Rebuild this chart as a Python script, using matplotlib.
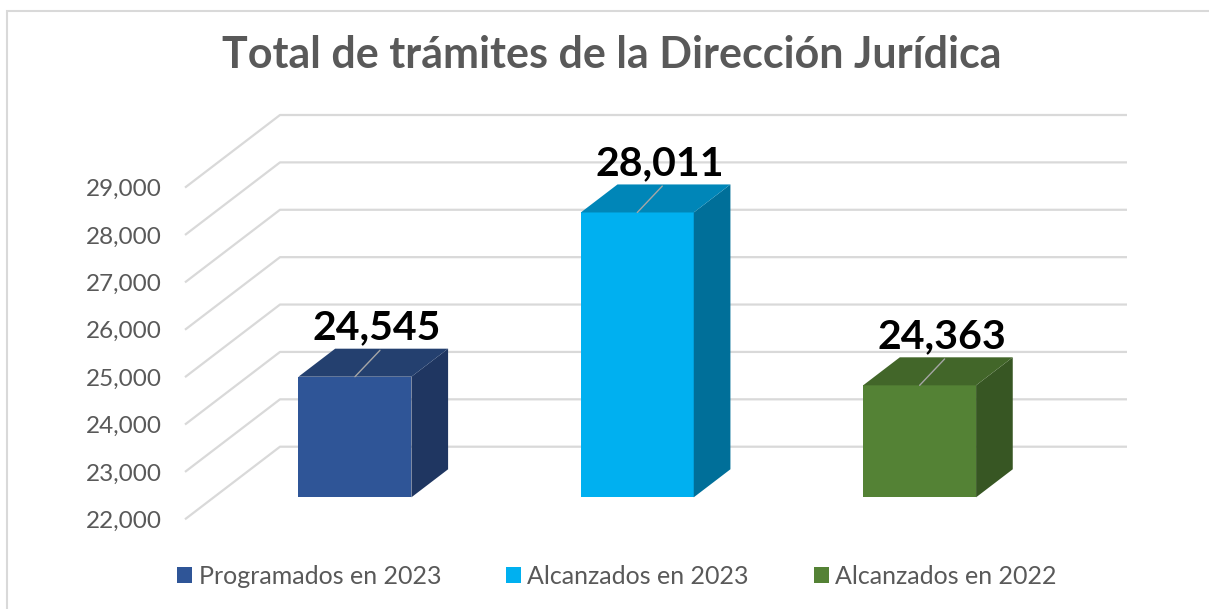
import matplotlib
matplotlib.use("Agg")
import matplotlib.pyplot as plt
from matplotlib.patches import Polygon, Rectangle

# ── Data ──────────────────────────────────────────────────────────────
categories = ["Programados en 2023", "Alcanzados en 2023", "Alcanzados en 2022"]
values = [24545, 28011, 24363]
y_ticks = [22000, 23000, 24000, 25000, 26000, 27000, 28000, 29000]
title = "Total de trámites de la Dirección Jurídica"

front_colors = ["#2F5597", "#00B0F0", "#548235"]
top_colors = ["#24406F", "#0086B8", "#426629"]
side_colors = ["#1F3661", "#006F99", "#375623"]

# ── Fake 3-D projection (oblique) ─────────────────────────────────────
BASE = y_ticks[0]
DX = 0.3365      # x shift (category units) for full depth
DY = 1532.0      # y shift (value units) for full depth
F0, F1 = 0.303, 0.689   # bar front / back depth fractions
HALF_W = 0.2

plt.rcParams["font.family"] = ["Lato", "DejaVu Sans"]
TEXT_GREY = "#595959"
GRID = "#D9D9D9"

W, H = 1209, 609
fig = plt.figure(figsize=(W / 100, H / 100), dpi=100)
ax = fig.add_axes([185 / W, (H - 519.3) / H, (1127 - 185) / W, (519.3 - 115) / H])
n = len(categories)
ax.set_xlim(0, n + DX)
ax.set_ylim(BASE, y_ticks[-1] + DY)

# gridlines: side wall diagonal + back wall horizontal
for v in y_ticks:
    ax.plot([0, DX, n + DX], [v, v + DY, v + DY], color=GRID, lw=1.6,
            zorder=1, clip_on=False, solid_capstyle="butt")

d = F1 - F0
for i, (cat, v) in enumerate(zip(categories, values)):
    xc = i + 0.5 + F0 * DX
    x0, x1 = xc - HALF_W, xc + HALF_W
    yb, yt = BASE + F0 * DY, v + F0 * DY
    ax.bar(xc, v - BASE, width=2 * HALF_W, bottom=yb, color=front_colors[i],
           zorder=3, label=cat)
    side = [(x1, yb), (x1 + d * DX, yb + d * DY), (x1 + d * DX, yt + d * DY), (x1, yt)]
    top = [(x0, yt), (x1, yt), (x1 + d * DX, yt + d * DY), (x0 + d * DX, yt + d * DY)]
    ax.add_patch(Polygon(side, closed=True, facecolor=side_colors[i], edgecolor="none", zorder=3))
    ax.add_patch(Polygon(top, closed=True, facecolor=top_colors[i], edgecolor="none", zorder=3))

    # leader line + data label
    ax.annotate("", xy=(xc, yt), xytext=(18, 19), textcoords="offset points",
                arrowprops=dict(arrowstyle="-", color="#A6A6A6", lw=1.0,
                                shrinkA=0, shrinkB=0), zorder=4)
    ax.annotate(f"{v:,}", xy=(xc, yt), xytext=(16, 27), textcoords="offset points",
                ha="center", va="baseline", fontsize=29.5, fontweight="bold",
                color="black", zorder=5)

ax.set_xticks([])
ax.set_yticks(y_ticks)
ax.set_yticklabels([f"{t:,}" for t in y_ticks])
ax.tick_params(axis="y", length=0, pad=16.5, labelsize=17.5, labelcolor=TEXT_GREY)
for s in ax.spines.values():
    s.set_visible(False)
ax.patch.set_alpha(0)

fig.text(611.5 / W, 1 - 68.3 / H, title, ha="center", va="baseline",
         fontsize=31, fontweight="bold", color=TEXT_GREY)

leg = fig.legend(loc="center", bbox_to_anchor=(617 / W, 33 / H), ncol=3,
                 frameon=False, fontsize=18, handlelength=0.6, handleheight=0.6,
                 handletextpad=0.25, columnspacing=2.6)
for t in leg.get_texts():
    t.set_color(TEXT_GREY)

# chart border (runs off the right and bottom edges)
fig.patches.append(Rectangle((6.5 / W, -0.1), 1.2, (H - 10.5) / H + 0.1,
                             transform=fig.transFigure, fill=False,
                             edgecolor=GRID, lw=1.5))

fig.savefig("out.png", dpi=100)
